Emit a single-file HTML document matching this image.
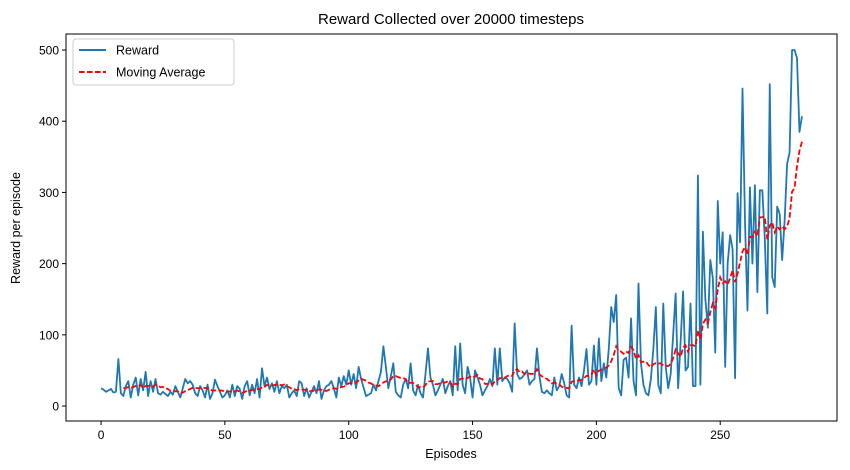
<!DOCTYPE html>
<html><head><meta charset="utf-8"><style>
body{margin:0;background:#fff;}
svg{display:block;font-family:"Liberation Sans","DejaVu Sans",sans-serif;}
</style></head><body>
<svg id="chart" width="850" height="470" viewBox="0 0 850 470">
<text x="451" y="24" text-anchor="middle" font-size="15" fill="#000">Reward Collected over 20000 timesteps</text>
<g id="plot"></g>
<text x="451" y="458" text-anchor="middle" font-size="12.5">Episodes</text>
<text transform="translate(20,228) rotate(-90)" text-anchor="middle" font-size="12.5">Reward per episode</text>
<g>
<rect x="73" y="39" width="161" height="46" rx="3" fill="#fff" fill-opacity="0.8" stroke="#ccc"/>
<g>
<line x1="79" y1="50" x2="106" y2="50" stroke="#1f77b4" stroke-width="2"/>
<text x="116" y="54.5" font-size="12.5">Reward</text></g>
<g>
<line x1="79" y1="72" x2="106" y2="72" stroke="#ff0000" stroke-width="2" stroke-dasharray="5.5,2.5"/>
<text x="116" y="76.5" font-size="12.5">Moving Average</text></g>
</g>
</svg>
<script>
const rewards=[25,23,20,22,24,19,20,66,18,14,
28,35,12,30,40,15,38,22,48,14,
35,20,38,18,16,20,17,14,20,16,
28,20,12,25,38,32,35,30,18,14,
28,22,12,30,10,18,37,28,20,12,
15,22,12,30,14,28,24,10,28,35,
15,30,18,38,12,53,28,40,24,32,
20,35,18,28,25,30,12,18,22,14,
35,32,14,25,12,20,28,18,35,10,
22,28,30,35,25,12,40,28,42,30,
50,30,45,25,55,38,26,14,16,18,
30,22,35,48,84,55,25,42,60,20,
15,12,30,38,25,60,22,15,30,18,
12,45,81,40,30,15,22,30,38,18,
28,35,15,84,22,88,30,18,55,40,
12,50,40,30,15,22,28,38,28,81,
30,81,35,40,38,32,20,116,45,38,
40,45,50,30,35,38,81,42,20,18,
22,18,15,40,22,28,45,32,15,12,
113,30,25,40,28,50,80,30,35,85,
30,95,35,60,40,80,139,118,156,25,
15,65,68,40,123,35,15,172,60,30,
18,15,38,80,139,30,18,144,55,25,
45,100,158,25,90,161,50,55,144,28,
28,324,30,245,150,110,205,180,75,288,
200,244,55,200,240,220,39,299,230,446,
260,134,307,200,310,160,303,303,235,130,
452,181,167,280,270,205,260,340,356,500,
500,489,385,407];
const windowSize=10;
const xTicks=[0,50,100,150,200,250];
const yTicks=[0,100,200,300,400,500];

const L=66,R=837,T=34,B=421;
const xMin=-14.15,xMax=297.15,yMin=-21,yMax=522.5;
const xs=v=>L+(v-xMin)/(xMax-xMin)*(R-L);
const ys=v=>B-(v-yMin)/(yMax-yMin)*(B-T);
const NS="http://www.w3.org/2000/svg";
const plot=document.getElementById('plot');
function mk(tag,attrs,parent){const e=document.createElementNS(NS,tag);for(const k in attrs)e.setAttribute(k,attrs[k]);(parent||plot).appendChild(e);return e;}

let d=rewards.map((v,i)=>(i?'L':'M')+xs(i).toFixed(2)+','+ys(v).toFixed(2)).join('');
const rl=mk('path',{d:d,fill:'none',stroke:'#1f77b4','stroke-width':1.8,'stroke-linejoin':'round'});


let pts=[];
for(let i=windowSize-1;i<rewards.length;i++){let s=0;for(let j=i-windowSize+1;j<=i;j++)s+=rewards[j];pts.push([i,s/windowSize]);}
d=pts.map((p,k)=>(k?'L':'M')+xs(p[0]).toFixed(2)+','+ys(p[1]).toFixed(2)).join('');
const ml=mk('path',{d:d,fill:'none',stroke:'#ff0000','stroke-width':1.8,'stroke-dasharray':'5.5,2.5'});


const fr=mk('rect',{x:L,y:T,width:R-L,height:B-T,fill:'none',stroke:'#000','stroke-width':1});


xTicks.forEach(t=>{
  const x=xs(t);
  mk('line',{x1:x,y1:B,x2:x,y2:B+4,stroke:'#000'});
  const tx=mk('text',{x:x,y:B+18,'text-anchor':'middle','font-size':12});
  tx.textContent=t;
  
  
});
yTicks.forEach(t=>{
  const y=ys(t);
  mk('line',{x1:L-4,y1:y,x2:L,y2:y,stroke:'#000'});
  const tx=mk('text',{x:L-7,y:y+4.5,'text-anchor':'end','font-size':12});
  tx.textContent=t;
  
  
});
</script>
</body></html>
